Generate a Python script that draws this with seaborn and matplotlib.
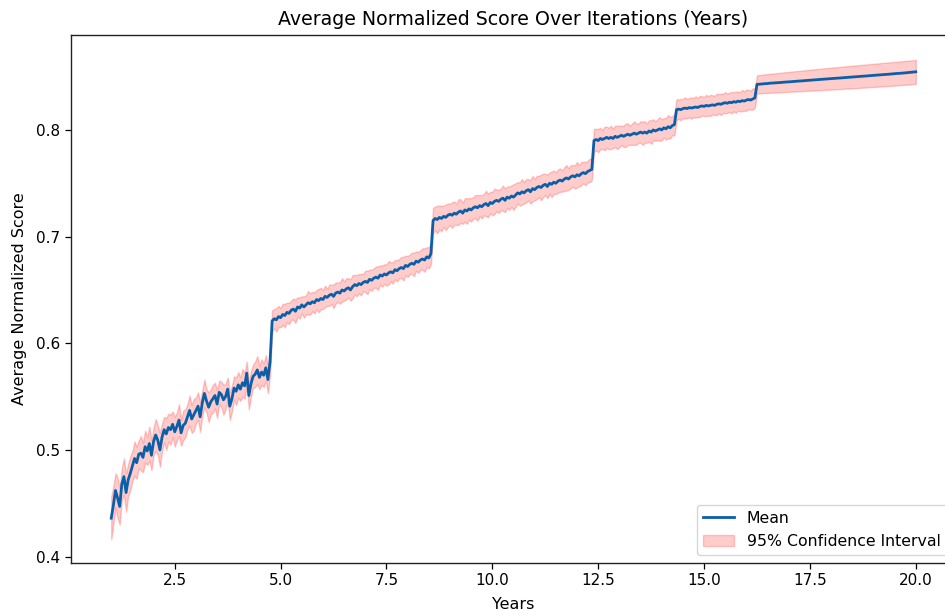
import numpy as np
import pandas as pd
import matplotlib
matplotlib.use("Agg")
import matplotlib.pyplot as plt
import seaborn as sns

# ---------------- data ----------------
step = 0.05
seg_starts = [1.00, 4.80, 8.60, 12.40, 14.35, 16.25]

mean_a = [0.436, 0.448, 0.462, 0.455, 0.447, 0.468, 0.475, 0.460, 0.472, 0.478,
          0.485, 0.492, 0.488, 0.496, 0.497, 0.493, 0.503, 0.499, 0.506, 0.495,
          0.508, 0.514, 0.509, 0.500, 0.512, 0.519, 0.515, 0.521, 0.519, 0.524,
          0.517, 0.522, 0.528, 0.516, 0.523, 0.525, 0.531, 0.537, 0.529, 0.533,
          0.537, 0.541, 0.531, 0.544, 0.553, 0.546, 0.540, 0.545, 0.548, 0.551,
          0.543, 0.554, 0.552, 0.547, 0.550, 0.557, 0.541, 0.548, 0.558, 0.555,
          0.561, 0.557, 0.563, 0.560, 0.572, 0.551, 0.562, 0.569, 0.571, 0.575,
          0.568, 0.573, 0.570, 0.577, 0.566, 0.582]
hw_a = [0.020, 0.018, 0.016, 0.019, 0.017, 0.015, 0.017, 0.018, 0.015, 0.016,
        0.014, 0.016, 0.015, 0.013, 0.016, 0.014, 0.015, 0.013, 0.016, 0.014,
        0.013, 0.015, 0.014, 0.016, 0.013, 0.012, 0.015, 0.013, 0.014, 0.012,
        0.014, 0.013, 0.015, 0.012, 0.014, 0.013, 0.012, 0.014, 0.013, 0.015,
        0.012, 0.013, 0.014, 0.012, 0.013, 0.011, 0.014, 0.012, 0.013, 0.012,
        0.013, 0.011, 0.012, 0.014, 0.012, 0.011, 0.013, 0.012, 0.011, 0.013,
        0.012, 0.011, 0.013, 0.012, 0.011, 0.013, 0.012, 0.011, 0.012, 0.013,
        0.011, 0.012, 0.011, 0.012, 0.013, 0.012]

mean_b = [0.621, 0.623, 0.622, 0.625, 0.624, 0.627, 0.626, 0.629, 0.628, 0.631,
          0.632, 0.630, 0.634, 0.633, 0.636, 0.634, 0.636, 0.638, 0.637, 0.639,
          0.638, 0.641, 0.640, 0.642, 0.641, 0.644, 0.643, 0.645, 0.646, 0.644,
          0.647, 0.648, 0.647, 0.650, 0.649, 0.651, 0.652, 0.650, 0.653, 0.655,
          0.654, 0.656, 0.655, 0.657, 0.658, 0.657, 0.660, 0.659, 0.661, 0.662,
          0.661, 0.664, 0.663, 0.665, 0.664, 0.666, 0.667, 0.666, 0.669, 0.668,
          0.670, 0.671, 0.670, 0.673, 0.672, 0.674, 0.675, 0.674, 0.677, 0.676,
          0.678, 0.679, 0.678, 0.681, 0.680, 0.684]
hw_b = [0.010, 0.009, 0.011, 0.010, 0.009, 0.010, 0.011, 0.009, 0.010, 0.009,
        0.010, 0.011, 0.009, 0.010, 0.008, 0.010, 0.009, 0.011, 0.010, 0.009,
        0.010, 0.009, 0.011, 0.010, 0.009, 0.010, 0.008, 0.010, 0.009, 0.011,
        0.010, 0.009, 0.010, 0.011, 0.009, 0.010, 0.009, 0.010, 0.011, 0.009,
        0.010, 0.009, 0.010, 0.008, 0.010, 0.011, 0.009, 0.010, 0.009, 0.010,
        0.011, 0.009, 0.010, 0.009, 0.010, 0.011, 0.009, 0.010, 0.009, 0.010,
        0.009, 0.010, 0.011, 0.009, 0.010, 0.009, 0.010, 0.011, 0.009, 0.010,
        0.009, 0.010, 0.011, 0.009, 0.010, 0.010]

mean_c = [0.715, 0.717, 0.716, 0.718, 0.717, 0.719, 0.718, 0.720, 0.721, 0.720,
          0.722, 0.721, 0.723, 0.724, 0.722, 0.725, 0.724, 0.726, 0.725, 0.727,
          0.728, 0.727, 0.729, 0.728, 0.730, 0.731, 0.729, 0.732, 0.731, 0.733,
          0.734, 0.733, 0.735, 0.736, 0.734, 0.737, 0.736, 0.738, 0.737, 0.739,
          0.741, 0.740, 0.742, 0.741, 0.743, 0.744, 0.742, 0.745, 0.744, 0.746,
          0.747, 0.746, 0.748, 0.749, 0.747, 0.750, 0.749, 0.751, 0.750, 0.752,
          0.753, 0.752, 0.754, 0.755, 0.754, 0.756, 0.757, 0.756, 0.758, 0.757,
          0.759, 0.760, 0.759, 0.761, 0.762, 0.763]
hw_c = [0.012, 0.011, 0.013, 0.011, 0.012, 0.010, 0.012, 0.011, 0.010, 0.012,
        0.011, 0.010, 0.012, 0.011, 0.010, 0.011, 0.012, 0.010, 0.011, 0.010,
        0.011, 0.012, 0.010, 0.011, 0.010, 0.012, 0.011, 0.010, 0.011, 0.012,
        0.010, 0.011, 0.010, 0.012, 0.011, 0.010, 0.011, 0.010, 0.012, 0.011,
        0.010, 0.011, 0.012, 0.010, 0.011, 0.010, 0.011, 0.012, 0.010, 0.011,
        0.010, 0.012, 0.011, 0.010, 0.011, 0.010, 0.012, 0.011, 0.010, 0.011,
        0.011, 0.010, 0.011, 0.012, 0.010, 0.011, 0.010, 0.011, 0.012, 0.010,
        0.011, 0.010, 0.011, 0.010, 0.011, 0.010]

mean_d = [0.790, 0.791, 0.790, 0.792, 0.791, 0.792, 0.793, 0.792, 0.793, 0.792,
          0.794, 0.793, 0.794, 0.795, 0.794, 0.795, 0.796, 0.795, 0.796, 0.797,
          0.796, 0.797, 0.798, 0.797, 0.798, 0.797, 0.799, 0.798, 0.800, 0.799,
          0.800, 0.801, 0.800, 0.802, 0.801, 0.803, 0.802, 0.804, 0.805]
hw_d = [0.011, 0.010, 0.011, 0.010, 0.009, 0.011, 0.010, 0.010, 0.011, 0.009,
        0.010, 0.011, 0.010, 0.009, 0.010, 0.011, 0.010, 0.009, 0.010, 0.011,
        0.010, 0.009, 0.010, 0.011, 0.010, 0.009, 0.010, 0.011, 0.010, 0.009,
        0.010, 0.011, 0.010, 0.009, 0.010, 0.011, 0.010, 0.009, 0.010]

mean_e = [0.8190, 0.8195, 0.8190, 0.8200, 0.8205, 0.8200, 0.8210, 0.8205, 0.8210, 0.8215,
          0.8210, 0.8220, 0.8225, 0.8220, 0.8230, 0.8225, 0.8230, 0.8235, 0.8230, 0.8240,
          0.8245, 0.8240, 0.8250, 0.8255, 0.8250, 0.8260, 0.8255, 0.8265, 0.8260, 0.8270,
          0.8265, 0.8275, 0.8270, 0.8280, 0.8285, 0.8280, 0.8290, 0.8300]
hw_e = [0.010, 0.009, 0.010, 0.009, 0.010, 0.009, 0.009, 0.010, 0.009, 0.010,
        0.009, 0.010, 0.009, 0.009, 0.010, 0.009, 0.010, 0.009, 0.009, 0.010,
        0.009, 0.010, 0.009, 0.010, 0.009, 0.009, 0.010, 0.009, 0.010, 0.009,
        0.009, 0.010, 0.009, 0.010, 0.009, 0.009, 0.010, 0.009]

mean_f = [0.8427, 0.8429, 0.8430, 0.8433, 0.8434, 0.8435, 0.8438, 0.8439, 0.8440, 0.8442,
          0.8443, 0.8445, 0.8446, 0.8448, 0.8449, 0.8451, 0.8452, 0.8454, 0.8456, 0.8457,
          0.8458, 0.8460, 0.8461, 0.8463, 0.8465, 0.8466, 0.8467, 0.8469, 0.8471, 0.8472,
          0.8473, 0.8475, 0.8477, 0.8478, 0.8479, 0.8481, 0.8483, 0.8484, 0.8485, 0.8487,
          0.8488, 0.8490, 0.8492, 0.8493, 0.8494, 0.8496, 0.8498, 0.8499, 0.8500, 0.8502,
          0.8504, 0.8505, 0.8506, 0.8508, 0.8510, 0.8511, 0.8513, 0.8514, 0.8516, 0.8518,
          0.8519, 0.8520, 0.8522, 0.8524, 0.8525, 0.8527, 0.8529, 0.8530, 0.8532, 0.8533,
          0.8535, 0.8537, 0.8538, 0.8540, 0.8542, 0.8545]
hw_f = [0.0085, 0.0086, 0.0086, 0.0087, 0.0088, 0.0088, 0.0089, 0.0089, 0.0090, 0.0090,
        0.0091, 0.0091, 0.0092, 0.0092, 0.0093, 0.0093, 0.0094, 0.0094, 0.0095, 0.0095,
        0.0096, 0.0096, 0.0097, 0.0097, 0.0098, 0.0098, 0.0099, 0.0099, 0.0100, 0.0100,
        0.0100, 0.0101, 0.0101, 0.0102, 0.0102, 0.0103, 0.0103, 0.0103, 0.0104, 0.0104,
        0.0104, 0.0105, 0.0105, 0.0105, 0.0106, 0.0106, 0.0106, 0.0107, 0.0107, 0.0107,
        0.0107, 0.0108, 0.0108, 0.0108, 0.0108, 0.0109, 0.0109, 0.0109, 0.0109, 0.0110,
        0.0110, 0.0110, 0.0110, 0.0110, 0.0111, 0.0111, 0.0111, 0.0111, 0.0111, 0.0112,
        0.0112, 0.0112, 0.0112, 0.0112, 0.0112, 0.0113]

mean_segments = [mean_a, mean_b, mean_c, mean_d, mean_e, mean_f]
hw_segments = [hw_a, hw_b, hw_c, hw_d, hw_e, hw_f]

# ---------------- assemble ----------------
years = np.concatenate([s + step * np.arange(len(m)) for s, m in zip(seg_starts, mean_segments)])
mean = np.concatenate([np.array(m) for m in mean_segments])
hw = np.concatenate([np.array(h) for h in hw_segments])
df = pd.DataFrame({"Years": years, "Mean": mean,
                   "lower": mean - hw, "upper": mean + hw})

# ---------------- plot ----------------
plt.rcdefaults()
plt.rcParams["font.family"] = ["DejaVu Sans"]

W, H = 945, 615
fig = plt.figure(figsize=(W / 100 + 1e-4, H / 100 + 1e-4), dpi=100)
# axes extend a little past the right edge of the figure (as in the reference)
ax = fig.add_axes([71 / W, 52 / H, (956 - 71) / W, (563 - 35) / H])

line_color = "#0b5fa9"
sns.lineplot(data=df, x="Years", y="Mean", ax=ax, color=line_color,
             linewidth=2, errorbar=None, label="Mean")
ax.fill_between(df["Years"], df["lower"], df["upper"], color="red", alpha=0.2,
                label="95% Confidence Interval")

ax.set_xlim(0.05, 20.95)
ax.set_ylim(0.394, 0.889)
ax.set_xticks([2.5, 5.0, 7.5, 10.0, 12.5, 15.0, 17.5, 20.0])
ax.set_yticks([0.4, 0.5, 0.6, 0.7, 0.8])
ax.tick_params(labelsize=11, length=4, width=0.9, color="black")
for sp in ax.spines.values():
    sp.set_linewidth(1.0)
    sp.set_color("#222222")

ax.set_title("Average Normalized Score Over Iterations (Years)", fontsize=13.7, pad=7)
ax.set_xlabel("Years", fontsize=11.5, labelpad=6)
ax.set_ylabel("Average Normalized Score", fontsize=11.5, labelpad=7)

ax.legend(loc="lower right", fontsize=11.3, frameon=True,
          bbox_to_anchor=(947 / W, 60 / H),
          bbox_transform=fig.transFigure, borderaxespad=0.0)

fig.savefig("out.png", dpi=100)
